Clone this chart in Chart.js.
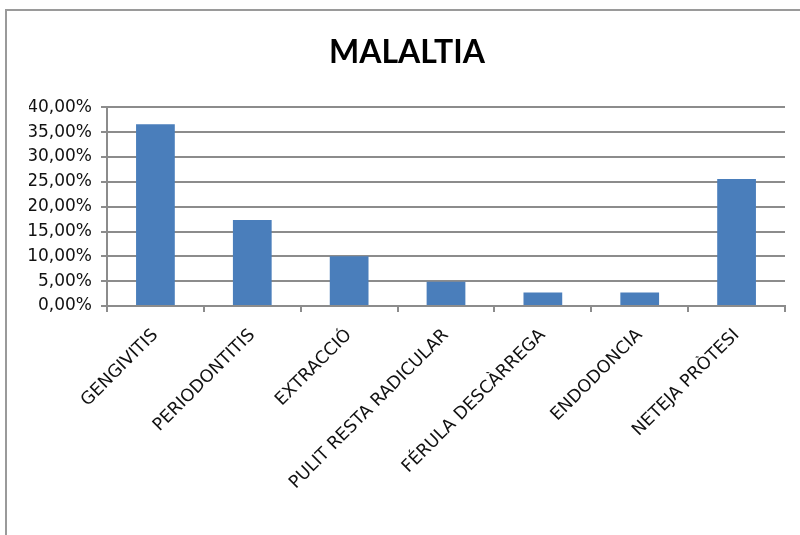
<!DOCTYPE html>
<html>
<head>
<meta charset="utf-8">
<script src="https://cdn.jsdelivr.net/npm/chart.js@4/dist/chart.umd.min.js"></script>
<style>
  html, body { margin: 0; padding: 0; background: #fff; overflow: hidden; }
  #frame { position: absolute; left: 5px; top: 9px; width: 820px; height: 560px;
           border-left: 2px solid #9a9a9a; border-top: 2px solid #9a9a9a; }
  #chart { position: absolute; left: 0; top: 0; }
</style>
</head>
<body>
<div id="frame"></div>
<canvas id="chart" width="800" height="535"></canvas>
<script>
const categories = ["GENGIVITIS", "PERIODONTITIS", "EXTRACCIÓ", "PULIT RESTA RADICULAR",
                    "FÉRULA DESCÀRREGA", "ENDODONCIA", "NETEJA PRÒTESI"];
const percents = [36.6, 17.3, 10.0, 4.9, 2.7, 2.7, 25.6];
const yMax = 40;
const yStep = 5;

const fmtPct = (v) => v.toFixed(2).replace(".", ",") + "%";

new Chart(document.getElementById("chart"), {
  type: "bar",
  data: {
    labels: categories,
    datasets: [{
      data: percents,
      backgroundColor: "#4a7ebb",
      borderWidth: 0,
      barPercentage: 0.4,
      categoryPercentage: 1
    }]
  },
  options: {
    responsive: false,
    devicePixelRatio: 1,
    animation: false,
    layout: { padding: { top: 10, left: 29, right: 15, bottom: 0 } },
    plugins: {
      legend: { display: false },
      tooltip: { enabled: false },
      title: {
        display: true,
        text: "MALALTIA",
        color: "#000",
        font: { family: "Lato", size: 32, weight: "bold" },
        padding: { top: 23, bottom: 36 }
      }
    },
    scales: {
      x: {
        grid: { drawOnChartArea: false, drawTicks: true, tickLength: 6, color: "#8c8c8c", lineWidth: 2, offset: true },
        border: { color: "#8c8c8c", width: 2 },
        ticks: {
          color: "#111",
          font: { family: "DejaVu Sans", size: 17.5 },
          minRotation: 45,
          maxRotation: 45,
          autoSkip: false,
          padding: 13
        },
        afterFit: (s) => { s.height = 229; }
      },
      y: {
        min: 0,
        max: yMax,
        grid: { color: "#8c8c8c", lineWidth: 2, tickLength: 6 },
        border: { color: "#8c8c8c", width: 2 },
        ticks: {
          stepSize: yStep,
          color: "#111",
          font: { family: "DejaVu Sans", size: 17 },
          padding: 9,
          callback: (v) => fmtPct(v)
        },
        afterFit: (s) => { s.width = 78; }
      }
    }
  }
});
</script>
</body>
</html>
